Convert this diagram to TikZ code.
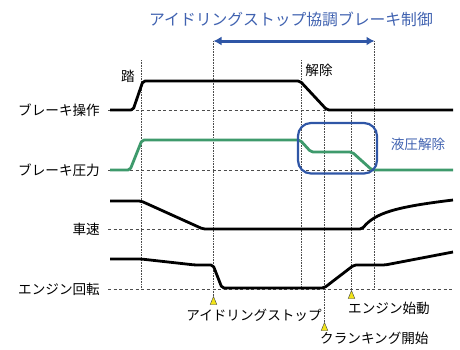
\documentclass[tikz,border=0pt]{standalone}
\usepackage{fontspec}
\setmainfont{Noto Sans CJK JP}
\usetikzlibrary{arrows.meta}
\definecolor{tblue}{HTML}{2F56A6}
\definecolor{lblue}{HTML}{4062B0}
\definecolor{tgreen}{HTML}{3E9A6C}
\definecolor{tyel}{HTML}{F2E418}
\tikzset{
  sig/.style={line width=2.8pt, line join=round, rounded corners=2pt},
  base/.style={line width=0.7pt, gray!60!black, dash pattern=on 3pt off 2.5pt},
  vdot/.style={densely dotted, line width=0.6pt, gray!60!black},
  lab/.style={font=\fontsize{13.6}{13.6}\selectfont, anchor=east, inner sep=0pt},
  tlab/.style={font=\fontsize{13.6}{13.6}\selectfont, inner sep=0pt},
  mark tri/.style={fill=tyel, draw=gray!50!black, line width=0.4pt},
}
\begin{document}
\begin{tikzpicture}[x=1pt,y=-1pt]
\useasboundingbox (0,0) rectangle (460,349);
% title
\node[font=\fontsize{15.8}{15.8}\selectfont, text=lblue, inner sep=0pt] (title) at (291,19) {アイドリングストップ協調ブレーキ制御};
% vertical guides
\coordinate (v1t) at (141,60); \coordinate (v1b) at (141,289);
\coordinate (v2t) at (213.5,41); \coordinate (v2b) at (213.5,297);
\coordinate (v3t) at (301,60); \coordinate (v3b) at (301,289);
\coordinate (v4t) at (324.5,110); \coordinate (v4b) at (324.5,322);
\coordinate (v5t) at (351.5,110); \coordinate (v5b) at (351.5,291);
\coordinate (v6t) at (374.5,41); \coordinate (v6b) at (374.5,289);
\foreach \i in {1,...,6} \draw[vdot] (v\i t) -- (v\i b);
% arrow
\draw[tblue, line width=3pt, {Latex[length=8pt,width=9pt]}-{Latex[length=8pt,width=9pt]}] (v2t) -- (v6t);
% baselines
\foreach \y in {110,170,229,289} \draw[base] (108,\y) -- (453,\y);
% labels
\node[lab] (l1) at (100,110) {ブレーキ操作};
\node[lab] (l2) at (100,170) {ブレーキ圧力};
\node[lab] (l3) at (100,229) {車速};
\node[lab] (l4) at (100,289) {エンジン回転};
\node[tlab] (fumi) at (128,76) {踏};
\node[tlab] (kai) at (319,70) {解除};
% brake operation
\draw[sig] (110,110) -- (133,110) -- (143,81) -- (300,81) -- (327,110) -- (453,110);
% brake pressure
\draw[sig, tgreen] (110,170) -- (130,170) -- (142,140) -- (300,140) -- (311,152) -- (352,152) -- (372,170) -- (453,170);
\draw[tblue, line width=2.2pt, rounded corners=13pt] (298,123) rectangle (377,173.5);
\node[tlab, text=lblue] (eki) at (418,144) {液圧解除};
% vehicle speed
\draw[sig] (110,201) -- (141,201) -- (203,229) -- (362,229) .. controls (375,213) and (395,207) .. (453,200);
% engine
\draw[sig] (110,259) -- (141,259) -- (195,265) -- (213,265) -- (222,288) -- (324,288) -- (354,265) -- (385,265) -- (453,252);
% markers
\foreach \x/\y in {213.5/301, 324.5/327, 351.5/295}
  \draw[mark tri] (\x-3.3,\y+3.5) -- (\x,\y-4.5) -- (\x+3.3,\y+3.5) -- cycle;
\node[tlab] (idle) at (254,315) {アイドリングストップ};
\node[tlab, anchor=west] (crank) at (320,338) {クランキング開始};
\node[tlab, anchor=west] (start) at (348,308) {エンジン始動};
\end{tikzpicture}
\end{document}
